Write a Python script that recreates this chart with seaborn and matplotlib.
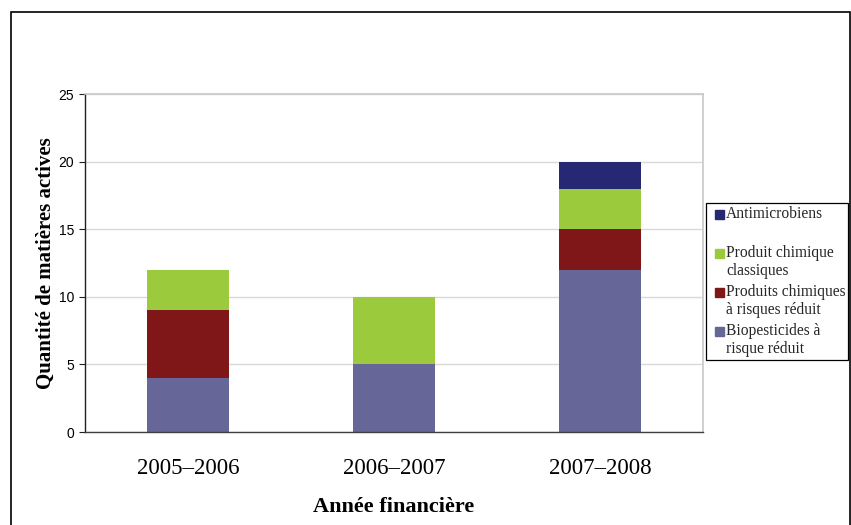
import numpy as np
import pandas as pd
import matplotlib
matplotlib.use("Agg")
import matplotlib.pyplot as plt
import matplotlib.patches as mpatches
from matplotlib.legend_handler import HandlerPatch
import seaborn as sns

# ---- data ----
years = ["2005–2006", "2006–2007", "2007–2008"]
biopesticides = [4, 5, 12]
produits_reduits = [5, 0, 3]
produit_classique = [3, 5, 3]
antimicrobiens = [0, 0, 2]

series_labels = [
    "Biopesticides à\nrisque réduit",
    "Produits chimiques\nà risques réduit",
    "Produit chimique\nclassiques",
    "Antimicrobiens\n",
]
series_values = [biopesticides, produits_reduits, produit_classique, antimicrobiens]
colors = ["#666699", "#7f1618", "#9bcb3c", "#262873"]

sns.set_theme(style="white")
plt.rcParams["font.family"] = ["Liberation Serif", "DejaVu Serif"]

fig = plt.figure(figsize=(8.51, 5.25), dpi=100)
ax = fig.add_axes([85 / 851, 1 - 432 / 525, (703 - 85) / 851, (432 - 94) / 525])

stack = np.cumsum(np.array(series_values, dtype=float), axis=0)
handles = []
# draw from top of stack downward so lower segments overlay
for i in range(len(series_values) - 1, -1, -1):
    df = pd.DataFrame({"year": years, "value": stack[i]})
    sns.barplot(data=df, x="year", y="value", order=years, color=colors[i],
                width=0.4, saturation=1, edgecolor="none", linewidth=0, ax=ax)
    handles.append(mpatches.Patch(color=colors[i], label=series_labels[i]))

ax.set_ylim(0, 25)
ax.set_yticks([0, 5, 10, 15, 20, 25])
ax.yaxis.grid(True, color="#d9d9d9", linewidth=1.0)
ax.set_axisbelow(True)

for s in ["top", "right"]:
    ax.spines[s].set_color("#c8c8c8")
    ax.spines[s].set_linewidth(1.2)
ax.spines["left"].set_color("#202020")
ax.spines["bottom"].set_color("#404040")
ax.spines["left"].set_linewidth(1.0)
ax.spines["bottom"].set_linewidth(1.0)

ax.tick_params(axis="y", direction="out", length=4, width=0.8, color="#202020",
               left=True, pad=4)
ax.tick_params(axis="x", length=0, pad=19)
for lab in ax.get_yticklabels():
    lab.set_fontfamily(["Liberation Sans", "DejaVu Sans"])
    lab.set_fontsize(10)
    lab.set_color("black")
for lab in ax.get_xticklabels():
    lab.set_fontsize(16.5)
    lab.set_color("black")

ax.set_xlabel("Année financière", fontsize=16, fontweight="bold", color="black", labelpad=13)
ax.set_ylabel("Quantité de matières actives", fontsize=15, fontweight="bold", color="black", labelpad=2)


def top_rect(legend, orig_handle, xdescent, ydescent, width, height, fontsize):
    s = 0.58 * fontsize
    gap = 0.12 * fontsize
    return mpatches.Rectangle((-xdescent + width - s - gap, -ydescent + 0.62 * fontsize),
                              s, s)


leg = fig.legend(handles=handles, loc="upper left",
                 bbox_to_anchor=(706 / 851, 1 - 203 / 525),
                 bbox_transform=fig.transFigure,
                 fontsize=11.2, frameon=True, fancybox=False, shadow=False,
                 edgecolor="black", framealpha=1,
                 handlelength=1.1, handleheight=0.6, handletextpad=0.0,
                 labelspacing=0.3, borderpad=0.18, borderaxespad=0,
                 handler_map={mpatches.Patch: HandlerPatch(patch_func=top_rect)})
for t in leg.get_texts():
    t.set_linespacing(1.2)
leg.get_frame().set_linewidth(0.9)

frame = mpatches.Rectangle((11 / 851, -0.1), (850 - 11) / 851, (525 - 12) / 525 + 0.1,
                           transform=fig.transFigure, fill=False, edgecolor="black",
                           linewidth=1.2, clip_on=False)
fig.patches.append(frame)

fig.savefig("out.png", dpi=100)
